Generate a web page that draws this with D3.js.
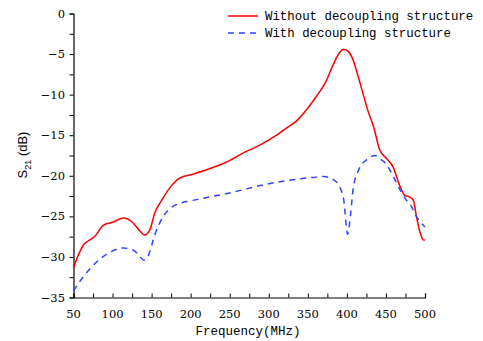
<!DOCTYPE html>
<html>
<head>
<meta charset="UTF-8">
<script src="https://d3js.org/d3.v7.min.js"></script>
<style>
  body { margin: 0; background: #fff; }
  svg { display: block; }
  .serif { font-family: "DejaVu Serif", "Liberation Serif", serif; }
  .mono { font-family: "Liberation Mono", "DejaVu Sans Mono", monospace; }
  .sans { font-family: "Liberation Sans", Arial, sans-serif; }
</style>
</head>
<body>
<svg width="483" height="341"></svg>
<script>
// frequency (MHz) / S21 (dB)
var freqRed = [50, 57, 63, 71, 78, 88, 101, 114, 124, 135, 141, 148, 154, 163, 174, 186, 203, 225, 246, 267, 289, 310, 323, 336, 348, 361, 372, 383, 390, 396, 402, 407, 414, 421, 427, 434, 442, 451, 459, 468, 474, 480, 485, 489, 494, 498, 500];
var s21Red = [-31.3, -29.6, -28.5, -27.9, -27.4, -26.1, -25.7, -25.2, -25.6, -26.8, -27.3, -26.6, -24.6, -23.0, -21.4, -20.3, -19.8, -19.1, -18.3, -17.2, -16.2, -15.0, -14.1, -13.2, -11.9, -10.2, -8.6, -6.2, -4.9, -4.4, -4.7, -5.5, -7.6, -10.0, -12.0, -13.9, -16.8, -17.9, -18.9, -21.3, -22.4, -22.6, -23.0, -25.0, -27.1, -27.9, -27.9];
var freqBlue = [50, 56, 63, 80, 97, 114, 127, 134, 140, 146, 154, 165, 174, 186, 199, 225, 255, 289, 323, 357, 370, 383, 391, 396, 401, 405, 408, 415, 427, 436, 442, 449, 459, 468, 477, 481, 489, 498, 500];
var s21Blue = [-34.2, -33.3, -32.4, -30.6, -29.4, -28.9, -29.2, -29.8, -30.4, -29.8, -27.3, -25.0, -24.0, -23.4, -23.1, -22.6, -22.0, -21.2, -20.6, -20.2, -20.1, -20.5, -21.4, -23.0, -27.2, -24.5, -21.6, -19.3, -17.9, -17.5, -17.9, -18.4, -20.0, -21.7, -23.1, -23.5, -25.0, -26.1, -26.3];
var xTicks = [50, 100, 150, 200, 250, 300, 350, 400, 450, 500];
var yTicks = [0, -5, -10, -15, -20, -25, -30, -35];
var seriesNames = ["Without decoupling structure", "With decoupling structure"];

var svg = d3.select("svg");
var x = d3.scaleLinear().domain([50, 500]).range([73.5, 425]);
var y = d3.scaleLinear().domain([-35, 0]).range([297.5, 13.5]);

// x axis: minor ticks every 25, pointing up
var xAxis = svg.append("g").attr("transform", "translate(0," + y(-35) + ")");
xAxis.call(d3.axisBottom(x).tickValues(d3.range(50, 501, 25)).tickSize(-4).tickFormat(""));
xAxis.selectAll("text").remove();
xAxis.selectAll("line").attr("stroke", "#000");
xAxis.select(".domain").attr("stroke", "#000").attr("stroke-width", 1.2);
svg.append("g").selectAll("text").data(xTicks).enter().append("text")
  .attr("class", "serif")
  .attr("x", function(d) { return x(d); })
  .attr("y", 318)
  .attr("text-anchor", "middle")
  .attr("font-size", 11.5)
  .text(function(d) { return d; });

// y axis: ticks every 2.5, outward
var yAxis = svg.append("g").attr("transform", "translate(" + x(50) + ",0)");
yAxis.call(d3.axisLeft(y).tickValues(d3.range(-35, 0.1, 2.5)).tickSize(4).tickFormat(""));
yAxis.selectAll("line").attr("stroke", "#000");
yAxis.select(".domain").attr("stroke", "#000").attr("stroke-width", 1.2);
svg.append("g").selectAll("text").data(yTicks).enter().append("text")
  .attr("class", "serif")
  .attr("x", 65)
  .attr("y", function(d) { return y(d) + 4; })
  .attr("text-anchor", "end")
  .attr("font-size", 11.5)
  .text(function(d) { return d === 0 ? "0" : "\u2212" + Math.abs(d); });

// axis titles
svg.append("text")
  .attr("class", "mono")
  .attr("x", 248).attr("y", 335)
  .attr("text-anchor", "middle")
  .attr("font-size", 12.5)
  .text("Frequency(MHz)");

var yl = svg.append("text")
  .attr("class", "sans")
  .attr("transform", "translate(27,155) rotate(-90)")
  .attr("text-anchor", "middle")
  .attr("font-size", 13);
yl.append("tspan").text("S");
yl.append("tspan").attr("font-size", 9).attr("dy", 4).text("21");
yl.append("tspan").attr("dy", -4).text(" (dB)");

// curves
var line = d3.line()
  .x(function(d) { return x(d[0]); })
  .y(function(d) { return y(d[1]); })
  .curve(d3.curveMonotoneX);

svg.append("path")
  .datum(d3.zip(freqRed, s21Red))
  .attr("d", line)
  .attr("fill", "none")
  .attr("stroke", "#ff0000")
  .attr("stroke-width", 1.5);

svg.append("path")
  .datum(d3.zip(freqBlue, s21Blue))
  .attr("d", line)
  .attr("fill", "none")
  .attr("stroke", "#2e44ff")
  .attr("stroke-width", 1.5)
  .attr("stroke-dasharray", "6,5");

// legend
var colors = ["#ff0000", "#2e44ff"];
var dashes = [null, "6,5"];
seriesNames.forEach(function(name, i) {
  var g = svg.append("g").attr("transform", "translate(228," + (16 + i * 17) + ")");
  g.append("line")
    .attr("x1", 0).attr("x2", 30).attr("y1", 0).attr("y2", 0)
    .attr("stroke", colors[i]).attr("stroke-width", 1.5)
    .attr("stroke-dasharray", dashes[i]);
  g.append("text")
    .attr("class", "mono")
    .attr("x", 37).attr("y", 4)
    .attr("font-size", 12.4)
    .text(name);
});
</script>
</body>
</html>
